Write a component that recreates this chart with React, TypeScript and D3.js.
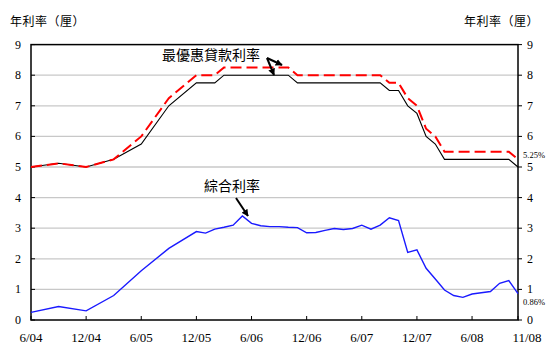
import React from 'react';
import * as d3 from 'd3';

// month index counted from 6/04
const rateMonths = [0, 3, 6, 9, 12, 15, 18, 20, 21, 28, 29, 38, 39, 40, 41, 42, 43, 44, 45, 52, 53];
const blackRates = [5.0, 5.12, 5.0, 5.25, 5.75, 7.0, 7.75, 7.75, 8.0, 8.0, 7.75, 7.75, 7.5, 7.5, 7.0, 6.75, 6.0, 5.75, 5.25, 5.25, 5.0];
const redRates = [5.0, 5.12, 5.0, 5.25, 6.0, 7.25, 8.0, 8.0, 8.25, 8.25, 8.0, 8.0, 7.75, 7.75, 7.25, 7.0, 6.25, 6.0, 5.5, 5.5, 5.25];

const compositeMonths = [0, 3, 6, 9, 12, 15, 18, 19, 20, 21, 22, 23, 24, 25, 26, 27, 28, 29, 30, 31, 32, 33, 34, 35, 36, 37, 38, 39, 40, 41, 42, 43, 44, 45, 46, 47, 48, 49, 50, 51, 52, 53];
const compositeRates = [0.25, 0.44, 0.3, 0.8, 1.61, 2.34, 2.89, 2.84, 2.97, 3.03, 3.1, 3.4, 3.16, 3.08, 3.05, 3.05, 3.03, 3.02, 2.85, 2.86, 2.93, 2.99, 2.96, 2.99, 3.1, 2.97, 3.1, 3.34, 3.25, 2.21, 2.29, 1.69, 1.34, 0.98, 0.8, 0.74, 0.85, 0.89, 0.93, 1.2, 1.29, 0.86];

const xTickMonths = [0, 6, 12, 18, 24, 30, 36, 42, 48, 53];
const xTickLabels = ['6/04', '12/04', '6/05', '12/05', '6/06', '12/06', '6/07', '12/07', '6/08', '11/08'];
const yTicks = [0, 1, 2, 3, 4, 5, 6, 7, 8, 9];

const W = 554;
const H = 354;

export default function App() {
  const x = d3.scaleLinear().domain([0, 53]).range([31, 518]);
  const y = d3.scaleLinear().domain([0, 9]).range([320, 44.6]);

  const line = d3.line<[number, number]>().x(d => x(d[0])).y(d => y(d[1]));
  const black = line(rateMonths.map((m, i) => [m, blackRates[i]]));
  const red = line(rateMonths.map((m, i) => [m, redRates[i]]));
  const blue = line(compositeMonths.map((m, i) => [m, compositeRates[i]]));

  const numFont = '"Liberation Serif", serif';
  const cjkFont = '"Noto Sans CJK TC", sans-serif';

  return (
    <svg width={W} height={H} style={{ position: 'absolute', left: 0, top: 0, background: '#fff' }}>
      <defs>
        <marker id="arr" viewBox="0 0 10 10" refX="9" refY="5" markerWidth="3.5" markerHeight="3.5" orient="auto">
          <path d="M0,0 L10,5 L0,10 z" fill="#000" />
        </marker>
      </defs>

      {/* gridlines */}
      {yTicks.slice(1, -1).map(t => (
        <line key={'g' + t} x1={x(0)} x2={x(53)} y1={y(t)} y2={y(t)} stroke="#c8c8c8" strokeWidth={1.3} />
      ))}

      {/* frame */}
      <rect x={x(0)} y={y(9)} width={x(53) - x(0)} height={y(0) - y(9)} fill="none" stroke="#000" strokeWidth={1.5} />

      {/* left / right ticks and labels */}
      {yTicks.map(t => (
        <g key={'y' + t}>
          <line x1={x(0)} x2={x(0) + 4} y1={y(t)} y2={y(t)} stroke="#000" />
          <line x1={x(53)} x2={x(53) + 4} y1={y(t)} y2={y(t)} stroke="#000" />
          <text x={18} y={y(t) + 4} textAnchor="middle" fontFamily={numFont} fontSize={12}>{t}</text>
          <text x={530} y={y(t) + 4} textAnchor="middle" fontFamily={numFont} fontSize={12}>{t}</text>
        </g>
      ))}

      {/* bottom ticks and labels */}
      {xTickMonths.map((m, i) => (
        <g key={'x' + m}>
          <line x1={x(m)} x2={x(m)} y1={y(0)} y2={y(0) - 4} stroke="#000" />
          <text x={x(m) + (i === xTickMonths.length - 1 ? 9 : 0)} y={342} textAnchor="middle"
            fontFamily={numFont} fontSize={13}>{xTickLabels[i]}</text>
        </g>
      ))}

      {/* series */}
      <path d={black ?? ''} fill="none" stroke="#000" strokeWidth={1.1} />
      <path d={red ?? ''} fill="none" stroke="#ff0000" strokeWidth={2} strokeDasharray="11,5" />
      <path d={blue ?? ''} fill="none" stroke="#1a1aff" strokeWidth={1.4} />

      {/* axis titles */}
      <text x={10} y={26} fontFamily={cjkFont} fontSize={12} letterSpacing={0.5}>年利率（厘）</text>
      <text x={464} y={26} fontFamily={cjkFont} fontSize={12} letterSpacing={0.5}>年利率（厘）</text>

      {/* annotations */}
      <text x={162} y={60} fontFamily={cjkFont} fontSize={14}>最優惠貸款利率</text>
      <line x1={267} y1={58} x2={282} y2={65} stroke="#000" strokeWidth={2} markerEnd="url(#arr)" />
      <line x1={267} y1={58} x2={274} y2={75} stroke="#000" strokeWidth={2} markerEnd="url(#arr)" />

      <text x={204} y={191} fontFamily={cjkFont} fontSize={14}>綜合利率</text>
      <line x1={236} y1={198} x2={248} y2={216} stroke="#000" strokeWidth={2} markerEnd="url(#arr)" />

      <text x={523} y={158} fontFamily={numFont} fontSize={8.5}>5.25%</text>
      <text x={523} y={305} fontFamily={numFont} fontSize={8.5}>0.86%</text>
    </svg>
  );
}
